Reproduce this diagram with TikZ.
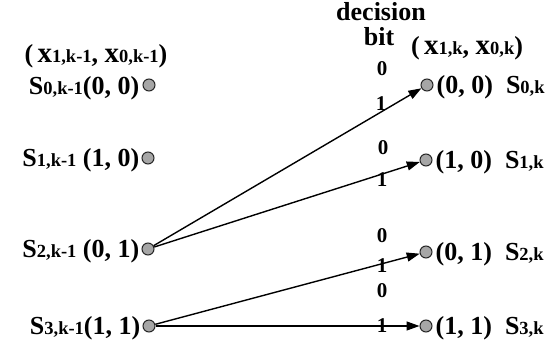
\documentclass[tikz,border=0pt]{standalone}
\usepackage{fontspec}
\setmainfont{Liberation Serif}
\usetikzlibrary{arrows.meta}
\newcommand\sbs[1]{{\fontsize{18.5}{19}\selectfont #1}}
\newcommand\bx{{\fontsize{29}{29}\selectfont x}}
\begin{document}
\begin{tikzpicture}[x=1pt,y=-1pt,
  lbl/.style={font=\fontsize{26}{28}\selectfont\bfseries, inner sep=0pt},
  st/.style={circle, fill=gray!70, draw=black!85, line width=1pt, minimum size=12pt, inner sep=0pt},
  tr/.style={line width=1.4pt, -{Triangle[length=13pt,width=9pt]}},
  bitl/.style={font=\fontsize{21}{22}\selectfont\bfseries, inner sep=0pt}]
\useasboundingbox (0,0) rectangle (558,342);
% states
\node[st] (L0) at (149,85) {};
\node[st] (L1) at (148,158) {};
\node[st] (L2) at (148,249) {};
\node[st] (L3) at (149,326) {};
\node[st] (R0) at (427,85) {};
\node[st] (R1) at (426,160) {};
\node[st] (R2) at (426,252) {};
\node[st] (R3) at (426,326) {};
% left labels
\node[lbl, anchor=east] (tL0) at ([xshift=-3pt,yshift=-3pt]L0.west) {S\sbs{0,k-1}(0, 0)};
\node[lbl, anchor=east] (tL1) at ([xshift=-2pt,yshift=-2pt]L1.west) {S\sbs{1,k-1} (1, 0)};
\node[lbl, anchor=east] (tL2) at ([xshift=-2pt,yshift=-2pt]L2.west) {S\sbs{2,k-1} (0, 1)};
\node[lbl, anchor=east] (tL3) at ([xshift=-2pt,yshift=-2pt]L3.west) {S\sbs{3,k-1}(1, 1)};
% right labels
\node[lbl, anchor=west] (tR0) at ([xshift=3pt,yshift=-2pt]R0.east) {(0, 0)\ \ S\sbs{0,k}};
\node[lbl, anchor=west] (tR1) at ([xshift=3pt,yshift=-2pt]R1.east) {(1, 0)\ \ S\sbs{1,k}};
\node[lbl, anchor=west] (tR2) at ([xshift=3pt,yshift=-2pt]R2.east) {(0, 1)\ \ S\sbs{2,k}};
\node[lbl, anchor=west] (tR3) at ([xshift=3pt,yshift=-2pt]R3.east) {(1, 1)\ \ S\sbs{3,k}};
% headers
\node[lbl] (hdrL) at (96,56) {(\,\bx\sbs{1,k-1}, \bx\sbs{0,k-1})};
\node[lbl] (hdrR) at (467,48) {(\,\bx\sbs{1,k}, \bx\sbs{0,k})};
\node[lbl] (dec) at (381,12) {decision};
\node[lbl] (bit) at (379,37) {bit};
% transitions
\draw[tr] (L2) -- (R0);
\draw[tr] (L2) -- (R1);
\draw[tr] (L3) -- (R2);
\draw[tr] (L3) -- (R3);
% decision bits
\node[bitl] (z0) at (382,69) {0};
\node[bitl] (o0) at (381,104) {1};
\node[bitl] (z1) at (383,148) {0};
\node[bitl] (o1) at (382,180) {1};
\node[bitl] (z2) at (382,236) {0};
\node[bitl] (o2) at (382,266) {1};
\node[bitl] (z3) at (382,291) {0};
\node[bitl] (o3) at (382,326) {1};
\end{tikzpicture}
\end{document}
